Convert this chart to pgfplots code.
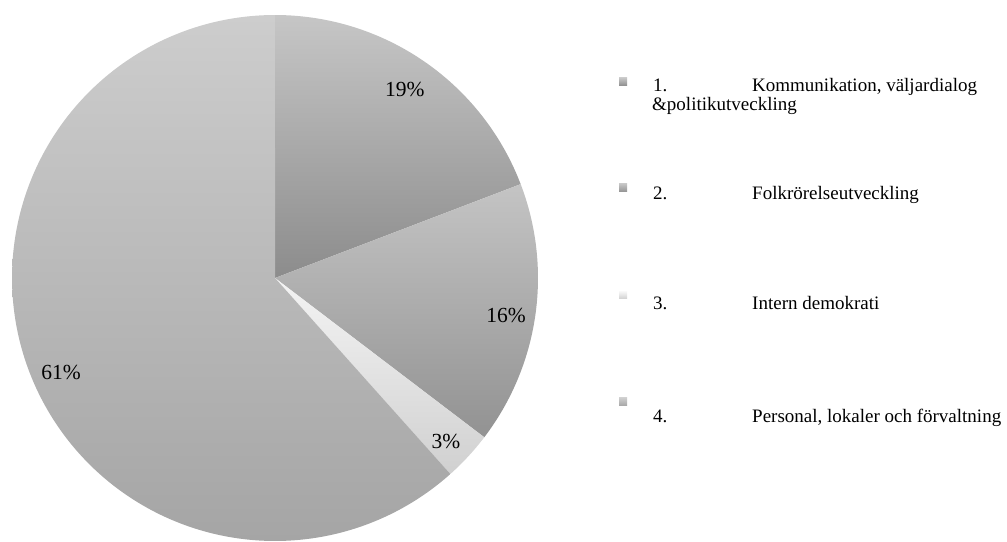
\documentclass[border=0pt]{standalone}
\usepackage{pgfplots}
\pgfplotsset{compat=1.18}
\usepackage{fontspec}
\setmainfont{Liberation Serif}
\definecolor{sAt}{HTML}{C6C6C6}\definecolor{sAb}{HTML}{8C8C8C}
\definecolor{sBt}{HTML}{C4C4C4}\definecolor{sBb}{HTML}{929292}
\definecolor{sCt}{HTML}{F4F4F4}\definecolor{sCb}{HTML}{D0D0D0}
\definecolor{sDt}{HTML}{CDCDCD}\definecolor{sDb}{HTML}{A5A5A5}
% shares (per cent, as labelled; they sum to 99 after rounding)
\def\pA{19}\def\pB{16}\def\pC{3}\def\pD{61}
\begin{document}
\begin{tikzpicture}[x=1pt,y=1pt]
\useasboundingbox (0pt,0pt) rectangle (1007pt,541pt);
\pgfmathsetmacro\tot{\pA+\pB+\pC+\pD}
\pgfmathsetmacro\kk{360/\tot}
\pgfmathsetmacro\aA{90}
\pgfmathsetmacro\aB{\aA-\kk*\pA}
\pgfmathsetmacro\aC{\aB-\kk*\pB}
\pgfmathsetmacro\aD{\aC-\kk*\pC}
\pgfmathsetmacro\aE{\aD-\kk*\pD}
\pgfmathsetmacro\mA{(\aA+\aB)/2}
\pgfmathsetmacro\mB{(\aB+\aC)/2}
\pgfmathsetmacro\mC{(\aC+\aD)/2}
\pgfmathsetmacro\mD{(\aD+\aE)/2}
\begin{axis}[at={(12pt,0pt)}, anchor=south west, width=526pt, height=526pt,
  scale only axis, xmin=-1, xmax=1, ymin=-1, ymax=1, hide axis, clip=false]
\addplot[draw=none, top color=sAt, bottom color=sAb, domain=\aB:\aA, samples=90] ({cos(x)},{sin(x)}) -- (axis cs:0,0) -- cycle;
\addplot[draw=none, top color=sBt, bottom color=sBb, domain=\aC:\aB, samples=90] ({cos(x)},{sin(x)}) -- (axis cs:0,0) -- cycle;
\addplot[draw=none, top color=sCt, bottom color=sCb, domain=\aD:\aC, samples=30] ({cos(x)},{sin(x)}) -- (axis cs:0,0) -- cycle;
\addplot[draw=none, top color=sDt, bottom color=sDb, domain=\aE:\aD, samples=240] ({cos(x)},{sin(x)}) -- (axis cs:0,0) -- cycle;
\node[font=\fontsize{21.5}{24}\selectfont] at (axis cs:{0.87*cos(\mA)},{0.87*sin(\mA)}) {\pA\%};
\node[font=\fontsize{21.5}{24}\selectfont] at (axis cs:{0.89*cos(\mB-1)},{0.89*sin(\mB-1)}) {\pB\%};
\node[font=\fontsize{21.5}{24}\selectfont] at (axis cs:{0.9*cos(\mC-1)},{0.9*sin(\mC-1)}) {\pC\%};
\node[font=\fontsize{21.5}{24}\selectfont] at (axis cs:{0.89*cos(\mD+3)},{0.89*sin(\mD+3)}) {\pD\%};
\end{axis}
% legend
\begin{scope}[every node/.style={inner sep=0pt, font=\fontsize{19}{22}\selectfont}]
\shade[top color=sAt, bottom color=sAb] (619,455) rectangle (627,463);
\node[anchor=base west] at (653,449) {1.};
\node[anchor=base west] at (752,449) {Kommunikation, väljardialog};
\node[anchor=base west] at (652,430) {\&politikutveckling};
\shade[top color=sBt, bottom color=sBb] (619,349) rectangle (627,357);
\node[anchor=base west] at (653,341) {2.};
\node[anchor=base west] at (752,341) {Folkrörelseutveckling};
\shade[top color=sCt, bottom color=sCb] (619,242) rectangle (627,249);
\node[anchor=base west] at (653,231) {3.};
\node[anchor=base west] at (752,231) {Intern demokrati};
\shade[top color=sDt, bottom color=sDb] (619,135) rectangle (627,143);
\node[anchor=base west] at (653,118) {4.};
\node[anchor=base west] at (752,118) {Personal, lokaler och förvaltning};
\end{scope}
\end{tikzpicture}
\end{document}
